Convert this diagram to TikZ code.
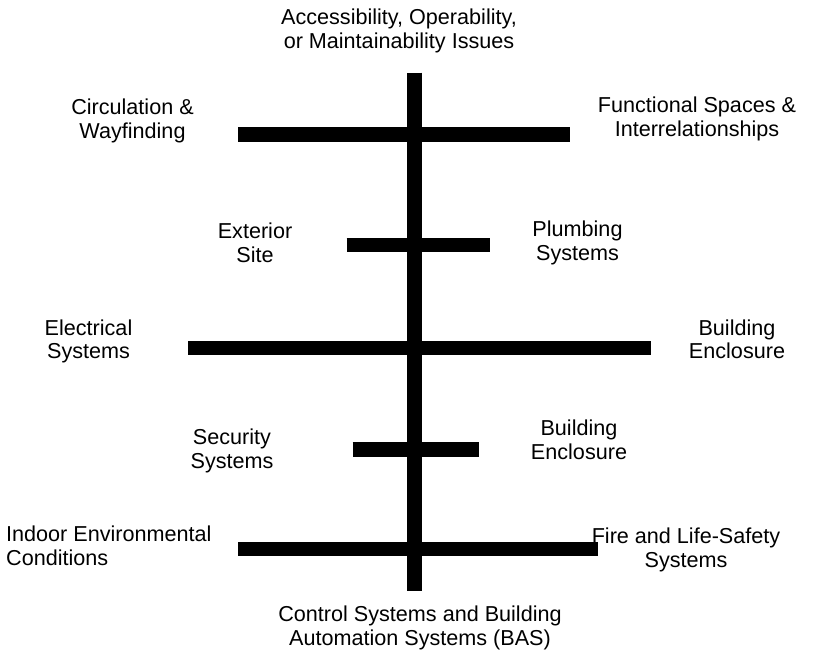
\documentclass[tikz,border=0pt]{standalone}
\usepackage{fontspec}
\setmainfont{Liberation Sans}
\newcommand\twoline[2]{\strut#1\\\strut#2}
\begin{document}
\begin{tikzpicture}[x=1pt,y=-1pt,
  bar/.style={line width=14.5pt,line cap=butt,draw=black},
  spine/.style={line width=15pt,line cap=butt,draw=black},
  lbl/.style={font=\fontsize{21.6}{24}\selectfont,align=center,inner sep=0pt,anchor=center,text=black}]
\useasboundingbox (0,0) rectangle (814,652);
% spine
\coordinate (st) at (414,72.7);
\coordinate (sb) at (414,590.7);
\draw[spine] (st) -- (sb);
% ribs
\coordinate (r1a) at (238.3,134.5); \coordinate (r1b) at (570,134.5);
\coordinate (r2a) at (346.7,244.8); \coordinate (r2b) at (490.3,244.8);
\coordinate (r3a) at (188.3,348);   \coordinate (r3b) at (650.7,348);
\coordinate (r4a) at (352.7,449.7); \coordinate (r4b) at (479.3,449.7);
\coordinate (r5a) at (238.3,549.2); \coordinate (r5b) at (598,549.2);
\draw[bar] (r1a) -- (r1b);
\draw[bar] (r2a) -- (r2b);
\draw[bar] (r3a) -- (r3b);
\draw[bar] (r4a) -- (r4b);
\draw[bar] (r5a) -- (r5b);
% labels
\node[lbl] (top) at (399,32.2) {\twoline{Accessibility, Operability,}{or Maintainability Issues}};
\node[lbl] (circ) at (132.5,122.2) {\twoline{Circulation \&}{Wayfinding}};
\node[lbl] (func) at (697,119.8) {\twoline{Functional Spaces \&}{Interrelationships}};
\node[lbl] (ext) at (255,246.2) {\twoline{Exterior}{Site}};
\node[lbl] (plumb) at (577.5,243.9) {\twoline{Plumbing}{Systems}};
\node[lbl] (elec) at (88.5,342.2) {\twoline{Electrical}{Systems}};
\node[lbl] (encl1) at (737,342.2) {\twoline{Building}{Enclosure}};
\node[lbl] (sec) at (232,452) {\twoline{Security}{Systems}};
\node[lbl] (encl2) at (579,443) {\twoline{Building}{Enclosure}};
\node[lbl,align=left,anchor=west] (ieq) at (6,549) {\twoline{Indoor Environmental}{Conditions}};
\node[lbl] (fire) at (686,551) {\twoline{Fire and Life-Safety}{Systems}};
\node[lbl] (bas) at (420,628.2) {\twoline{Control Systems and Building}{Automation Systems (BAS)}};
\end{tikzpicture}
\end{document}
